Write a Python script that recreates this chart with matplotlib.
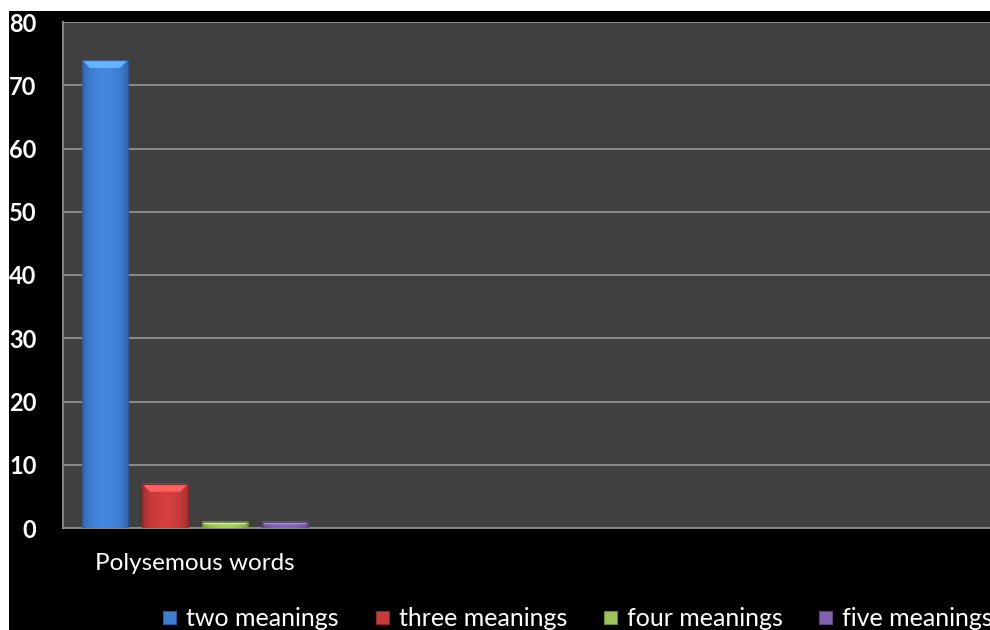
import numpy as np
import matplotlib
matplotlib.use("Agg")
import matplotlib.pyplot as plt
from matplotlib.patches import Rectangle, Polygon
from matplotlib.colors import to_rgb

plt.rcParams['font.family'] = ['Lato', 'DejaVu Sans']

categories = ["Polysemous words"]
series_names = ["two meanings", "three meanings", "four meanings", "five meanings"]
series_values = [74, 7, 1, 1]
series_colors = ["#3f7fd2", "#c83b3b", "#9dc35a", "#8162b0"]
y_ticks = [0, 10, 20, 30, 40, 50, 60, 70, 80]

W, H = 990, 630
fig = plt.figure(figsize=(W / 100, H / 100), dpi=100, facecolor="white")
fig.add_artist(Rectangle((9 / W, 0), (W - 9) / W, (H - 11) / H,
                         transform=fig.transFigure, facecolor="black",
                         edgecolor="none", zorder=0))

ax_left, ax_top, ax_bottom = 63, 22, 528
ax = fig.add_axes([ax_left / W, (H - ax_bottom) / H, (1010 - ax_left) / W,
                   (ax_bottom - ax_top) / H])
ax.set_facecolor("#404040")

slot = 60.0  # pixels per bar slot
center_px = 195
xlim = (-(center_px - ax_left) / slot, (1010 - center_px) / slot)
ax.set_ylim(0, 80)

ax.set_yticks(y_ticks)
ax.yaxis.grid(True, color="#8a8a8a", linewidth=1.4)
ax.set_axisbelow(True)
ax.tick_params(axis="y", length=0, pad=19, labelcolor="white", labelsize=17)
ax.tick_params(axis="x", length=0, pad=18, labelcolor="white", labelsize=17.5)
for lab in ax.get_yticklabels():
    lab.set_fontweight("bold")
ax.set_xticks([0])
ax.set_xticklabels(categories)

for side in ("top", "right"):
    ax.spines[side].set_visible(False)
for side in ("left", "bottom"):
    ax.spines[side].set_color("#8a8a8a")
    ax.spines[side].set_linewidth(1.4)

width = 0.77
offsets = np.arange(len(series_values)) - (len(series_values) - 1) / 2
# horizontal shading: darker edges, lighter middle
xs = np.linspace(0, 1, 64)
shade = 0.75 + 0.32 * np.sin(np.pi * xs) ** 0.6
bevel_px = 8

for off, val, col in zip(offsets, series_values, series_colors):
    base = np.array(to_rgb(col))
    x0 = off - width / 2
    bar = ax.bar(off, val, width=width, color=col, edgecolor="none", zorder=3)[0]
    img = np.clip(base[None, None, :] * shade[None, :, None], 0, 1)
    im = ax.imshow(img, extent=(x0, x0 + width, 0, val), aspect="auto",
                   zorder=3.5, interpolation="bilinear")
    im.set_clip_path(bar)
    # bevelled top edge
    dy = min(bevel_px * 80 / (ax_bottom - ax_top), val * 0.4)
    dx = dy * (ax_bottom - ax_top) / 80 / slot
    light = np.clip(base * 1.2 + 0.1, 0, 1)
    ax.add_patch(Polygon([(x0, val), (x0 + width, val),
                          (x0 + width - dx, val - dy), (x0 + dx, val - dy)],
                         closed=True, facecolor=light, edgecolor="none", zorder=4))
    ax.add_patch(Rectangle((x0, 0), width, val, facecolor="none",
                           edgecolor=base * 0.7, linewidth=0.8, zorder=4.5))

ax.set_xlim(*xlim)

# legend entries along the bottom edge
legend_x = [163, 376, 604, 819]
sq = 13
for lx, name, col in zip(legend_x, series_names, series_colors):
    base = np.array(to_rgb(col))
    fig.add_artist(Rectangle((lx / W, (H - 624) / H), sq / W, sq / H,
                             transform=fig.transFigure, facecolor=col,
                             edgecolor=base * 0.7, linewidth=0.8, zorder=2))
    fig.text((lx + 23) / W, (H - 618) / H, name, color="white", fontsize=18,
             va="center", ha="left", zorder=2)

fig.savefig("out.png", dpi=100, facecolor="white")
